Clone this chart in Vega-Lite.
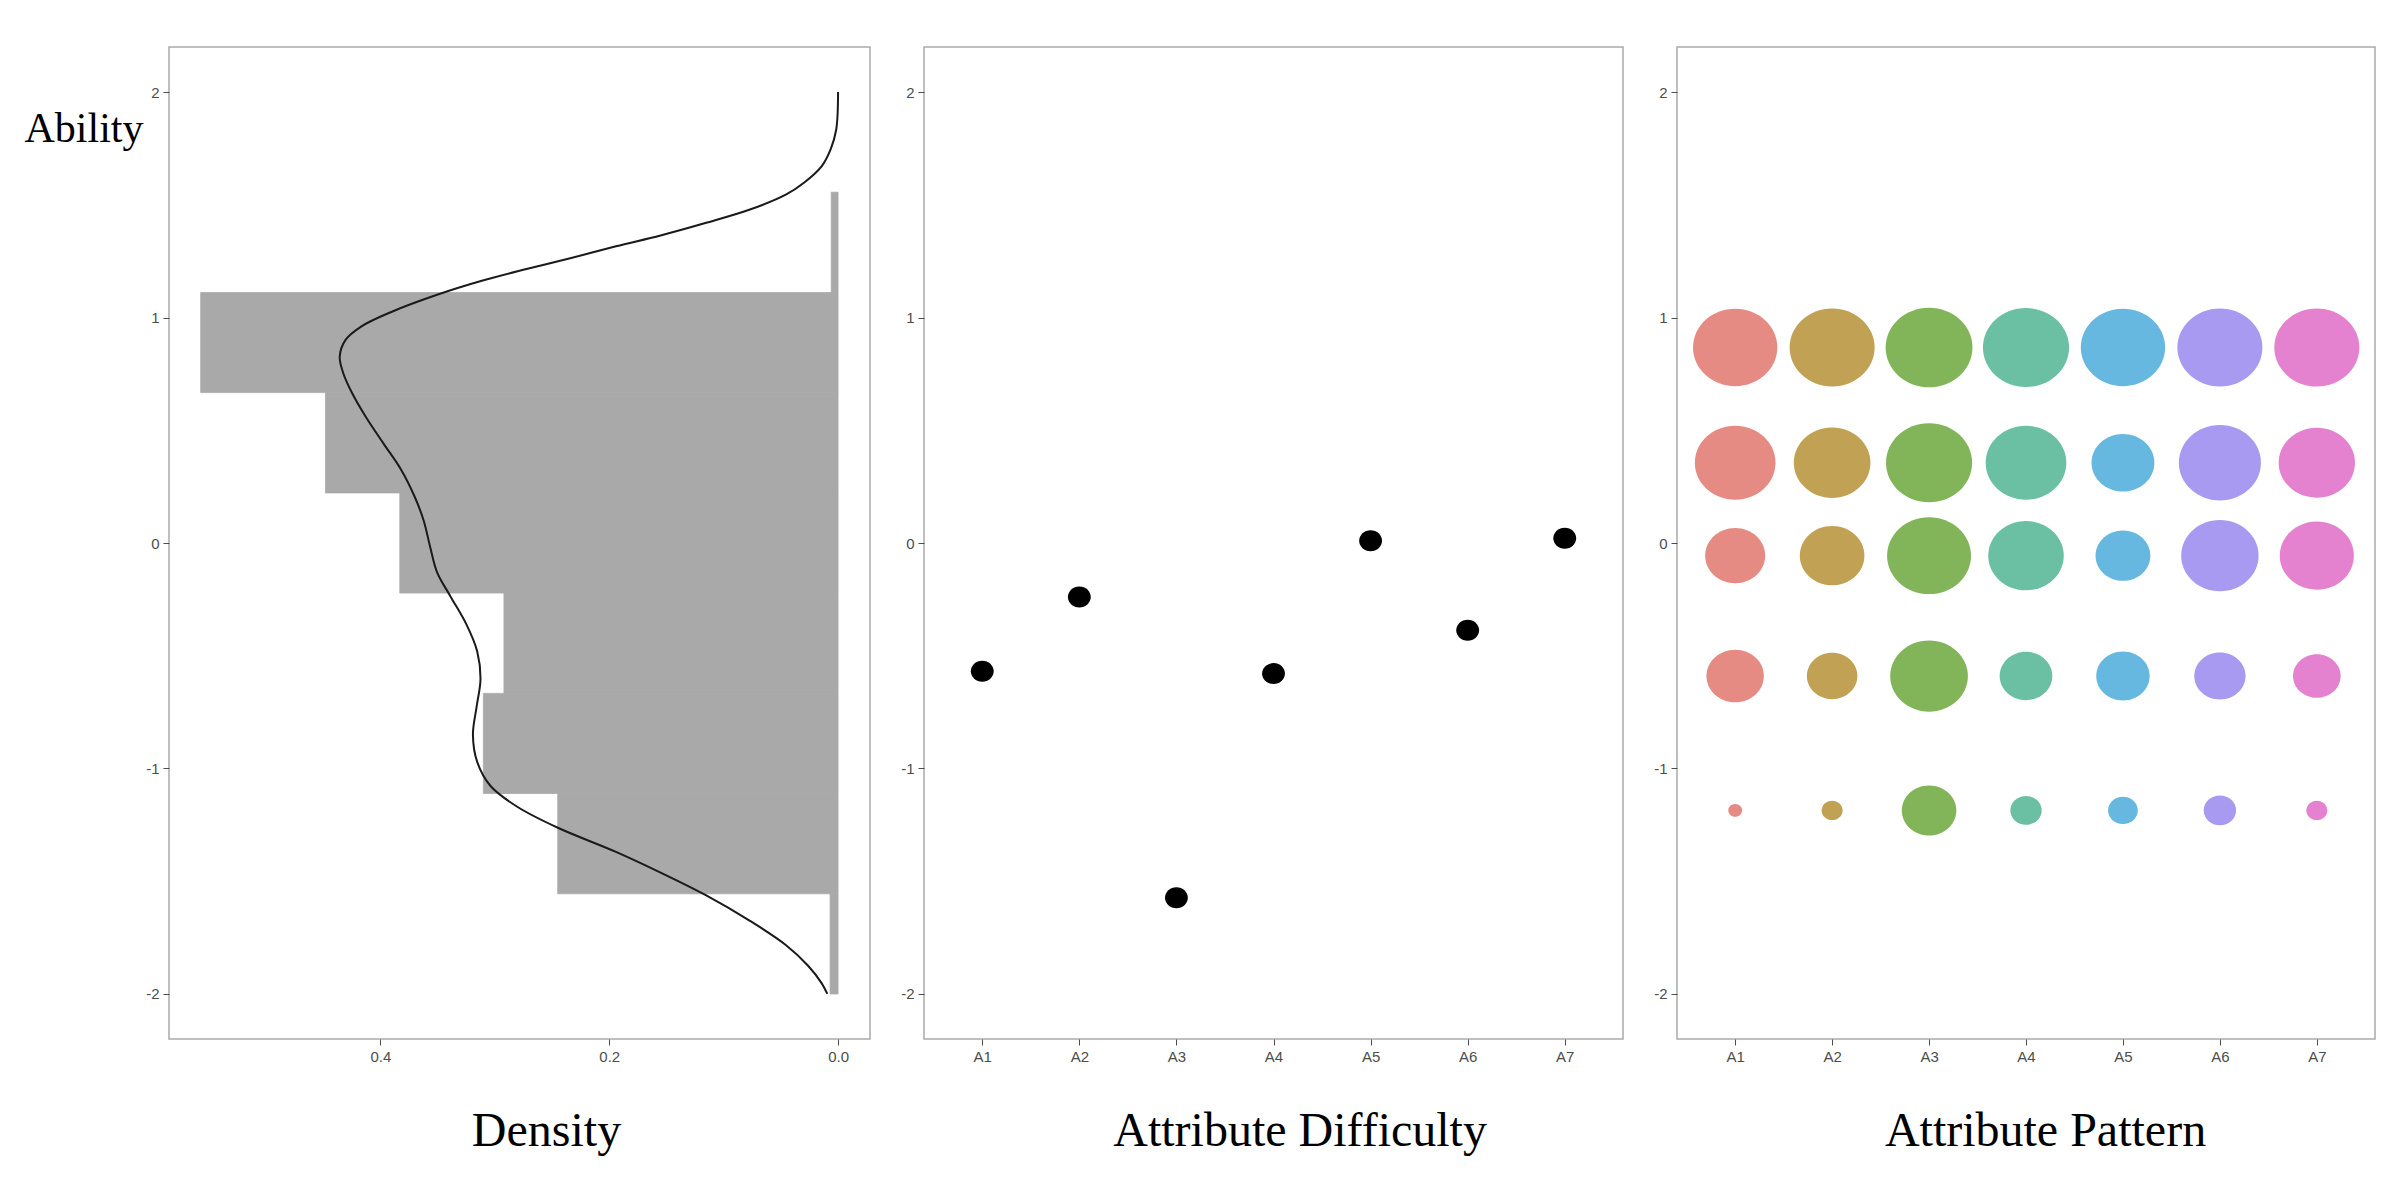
{
  "$schema": "https://vega.github.io/schema/vega-lite/v6.json",
  "padding": {"left": 23, "top": 46, "right": 0, "bottom": 0},
  "spacing": 28,
  "background": "white",
  "datasets": {
    "hist": [
      {"lo": -2.0, "hi": -1.556, "density": 0.007},
      {"lo": -1.556, "hi": -1.111, "density": 0.245},
      {"lo": -1.111, "hi": -0.667, "density": 0.310},
      {"lo": -0.667, "hi": -0.222, "density": 0.292},
      {"lo": -0.222, "hi": 0.222, "density": 0.383},
      {"lo": 0.222, "hi": 0.667, "density": 0.448},
      {"lo": 0.667, "hi": 1.111, "density": 0.557},
      {"lo": 1.111, "hi": 1.556, "density": 0.006}
    ],
    "curve": [
      {"ability": 2.0, "density": 0.0},
      {"ability": 1.834, "density": 0.0016},
      {"ability": 1.745, "density": 0.0066},
      {"ability": 1.671, "density": 0.0144},
      {"ability": 1.597, "density": 0.0301},
      {"ability": 1.545, "density": 0.0457},
      {"ability": 1.479, "density": 0.077},
      {"ability": 1.419, "density": 0.116},
      {"ability": 1.364, "density": 0.1551},
      {"ability": 1.316, "density": 0.1941},
      {"ability": 1.264, "density": 0.2332},
      {"ability": 1.215, "density": 0.2723},
      {"ability": 1.163, "density": 0.3113},
      {"ability": 1.101, "density": 0.3504},
      {"ability": 1.027, "density": 0.3894},
      {"ability": 0.96, "density": 0.4168},
      {"ability": 0.901, "density": 0.4304},
      {"ability": 0.827, "density": 0.4355},
      {"ability": 0.753, "density": 0.4324},
      {"ability": 0.664, "density": 0.4246},
      {"ability": 0.56, "density": 0.4128},
      {"ability": 0.441, "density": 0.3972},
      {"ability": 0.323, "density": 0.3816},
      {"ability": 0.204, "density": 0.3699},
      {"ability": 0.099, "density": 0.3621},
      {"ability": -0.023, "density": 0.3562},
      {"ability": -0.13, "density": 0.3504},
      {"ability": -0.237, "density": 0.3387},
      {"ability": -0.36, "density": 0.3249},
      {"ability": -0.482, "density": 0.3153},
      {"ability": -0.604, "density": 0.3125},
      {"ability": -0.727, "density": 0.3159},
      {"ability": -0.85, "density": 0.3191},
      {"ability": -0.972, "density": 0.3153},
      {"ability": -1.079, "density": 0.3035},
      {"ability": -1.171, "density": 0.28},
      {"ability": -1.263, "density": 0.2449},
      {"ability": -1.37, "density": 0.1941},
      {"ability": -1.462, "density": 0.1551},
      {"ability": -1.561, "density": 0.116},
      {"ability": -1.676, "density": 0.077},
      {"ability": -1.783, "density": 0.0457},
      {"ability": -1.875, "density": 0.0262},
      {"ability": -1.952, "density": 0.0144},
      {"ability": -2.0, "density": 0.0094}
    ],
    "difficulty": [
      {"attr": "A1", "difficulty": -0.569},
      {"attr": "A2", "difficulty": -0.24},
      {"attr": "A3", "difficulty": -1.573},
      {"attr": "A4", "difficulty": -0.579},
      {"attr": "A5", "difficulty": 0.01},
      {"attr": "A6", "difficulty": -0.387},
      {"attr": "A7", "difficulty": 0.021}
    ],
    "pattern": [
      {"attr": "A1", "ability": 0.867, "prob": 0.934},
      {"attr": "A2", "ability": 0.867, "prob": 0.951},
      {"attr": "A3", "ability": 0.867, "prob": 0.992},
      {"attr": "A4", "ability": 0.867, "prob": 0.975},
      {"attr": "A5", "ability": 0.867, "prob": 0.934},
      {"attr": "A6", "ability": 0.867, "prob": 0.951},
      {"attr": "A7", "ability": 0.867, "prob": 0.951},
      {"attr": "A1", "ability": 0.356, "prob": 0.856},
      {"attr": "A2", "ability": 0.356, "prob": 0.772},
      {"attr": "A3", "ability": 0.356, "prob": 0.975},
      {"attr": "A4", "ability": 0.356, "prob": 0.856},
      {"attr": "A5", "ability": 0.356, "prob": 0.52},
      {"attr": "A6", "ability": 0.356, "prob": 0.886},
      {"attr": "A7", "ability": 0.356, "prob": 0.766},
      {"attr": "A1", "ability": -0.056, "prob": 0.473},
      {"attr": "A2", "ability": -0.056, "prob": 0.549},
      {"attr": "A3", "ability": -0.056, "prob": 0.926},
      {"attr": "A4", "ability": -0.056, "prob": 0.75},
      {"attr": "A5", "ability": -0.056, "prob": 0.395},
      {"attr": "A6", "ability": -0.056, "prob": 0.788},
      {"attr": "A7", "ability": -0.056, "prob": 0.723},
      {"attr": "A1", "ability": -0.59, "prob": 0.434},
      {"attr": "A2", "ability": -0.59, "prob": 0.335},
      {"attr": "A3", "ability": -0.59, "prob": 0.794},
      {"attr": "A4", "ability": -0.59, "prob": 0.365},
      {"attr": "A5", "ability": -0.59, "prob": 0.375},
      {"attr": "A6", "ability": -0.59, "prob": 0.345},
      {"attr": "A7", "ability": -0.59, "prob": 0.298},
      {"attr": "A1", "ability": -1.186, "prob": 0.025},
      {"attr": "A2", "ability": -1.186, "prob": 0.058},
      {"attr": "A3", "ability": -1.186, "prob": 0.391},
      {"attr": "A4", "ability": -1.186, "prob": 0.129},
      {"attr": "A5", "ability": -1.186, "prob": 0.116},
      {"attr": "A6", "ability": -1.186, "prob": 0.138},
      {"attr": "A7", "ability": -1.186, "prob": 0.058}
    ]
  },
  "hconcat": [
    {
      "width": 701,
      "height": 992,
      "layer": [
        {
          "data": {"name": "hist"},
          "mark": {"type": "rect", "color": "#a9a9a9", "stroke": "#a9a9a9", "strokeWidth": 0.8},
          "encoding": {
            "y": {
              "field": "lo", "type": "quantitative",
              "scale": {"domain": [-2.2, 2.2], "nice": false, "zero": false},
              "axis": {
                "values": [-2, -1, 0, 1, 2],
                "labelExpr": "'' + datum.value",
                "title": "Ability",
                "titleAngle": 0,
                "titleX": -145,
                "titleY": 94,
                "titleAlign": "left",
                "titleBaseline": "alphabetic",
                "titleFontSize": 42
              }
            },
            "y2": {"field": "hi"},
            "x": {
              "field": "density", "type": "quantitative",
              "scale": {"domain": [-0.0279, 0.5847], "reverse": true, "nice": false, "zero": false},
              "axis": {
                "values": [0, 0.2, 0.4],
                "format": ".1f",
                "title": "Density",
                "titleX": 377,
                "titleY": 106,
                "titleBaseline": "alphabetic"
              }
            },
            "x2": {"datum": 0}
          }
        },
        {
          "data": {"name": "curve"},
          "mark": {"type": "line", "color": "#1a1a1a", "strokeWidth": 2, "interpolate": "catmull-rom"},
          "encoding": {
            "x": {"field": "density", "type": "quantitative"},
            "y": {"field": "ability", "type": "quantitative"},
            "order": {"field": "ability", "type": "quantitative"}
          }
        }
      ]
    },
    {
      "width": 699,
      "height": 992,
      "data": {"name": "difficulty"},
      "mark": {
        "type": "point",
        "filled": true,
        "color": "#000000",
        "opacity": 1,
        "size": 441,
        "shape": "M1.09,0C1.09,0.5523,0.602,1,0,1C-0.602,1,-1.09,0.5523,-1.09,0C-1.09,-0.5523,-0.602,-1,0,-1C0.602,-1,1.09,-0.5523,1.09,0Z"
      },
      "encoding": {
        "x": {
          "field": "attr", "type": "nominal",
          "scale": {"type": "point", "padding": 0.6},
          "axis": {
            "labelAngle": 0,
            "title": "Attribute Difficulty",
            "titleX": 375.6,
            "titleY": 106,
            "titleBaseline": "alphabetic"
          }
        },
        "y": {
          "field": "difficulty", "type": "quantitative",
          "scale": {"domain": [-2.2, 2.2], "nice": false, "zero": false},
          "axis": {"values": [-2, -1, 0, 1, 2], "labelExpr": "'' + datum.value", "title": null}
        }
      }
    },
    {
      "width": 698,
      "height": 992,
      "data": {"name": "pattern"},
      "mark": {
        "type": "point",
        "filled": true,
        "opacity": 1,
        "shape": "M1.09,0C1.09,0.5523,0.602,1,0,1C-0.602,1,-1.09,0.5523,-1.09,0C-1.09,-0.5523,-0.602,-1,0,-1C0.602,-1,1.09,-0.5523,1.09,0Z"
      },
      "encoding": {
        "x": {
          "field": "attr", "type": "nominal",
          "scale": {"type": "point", "padding": 0.6},
          "axis": {
            "labelAngle": 0,
            "title": "Attribute Pattern",
            "titleX": 368,
            "titleY": 106,
            "titleBaseline": "alphabetic"
          }
        },
        "y": {
          "field": "ability", "type": "quantitative",
          "scale": {"domain": [-2.2, 2.2], "nice": false, "zero": false},
          "axis": {"values": [-2, -1, 0, 1, 2], "labelExpr": "'' + datum.value", "title": null}
        },
        "size": {
          "field": "prob", "type": "quantitative",
          "scale": {"domain": [0, 1], "range": [0, 6400]},
          "legend": null
        },
        "color": {
          "field": "attr", "type": "nominal",
          "scale": {"range": ["#e58b83", "#c1a154", "#82b55a", "#6bc0a3", "#66b8e0", "#a89af0", "#e582d0"]},
          "legend": null
        }
      }
    }
  ],
  "config": {
    "view": {"stroke": "#ababab", "strokeWidth": 1.5},
    "axis": {
      "grid": false,
      "domain": false,
      "ticks": true,
      "tickColor": "#4d4d4d",
      "tickSize": 6,
      "labelFont": "Liberation Sans",
      "labelFontSize": 15,
      "labelColor": "#4d4d4d",
      "labelPadding": 4,
      "titleFont": "Liberation Serif",
      "titleFontSize": 48,
      "titleFontWeight": "normal",
      "titleColor": "#000000"
    }
  }
}
